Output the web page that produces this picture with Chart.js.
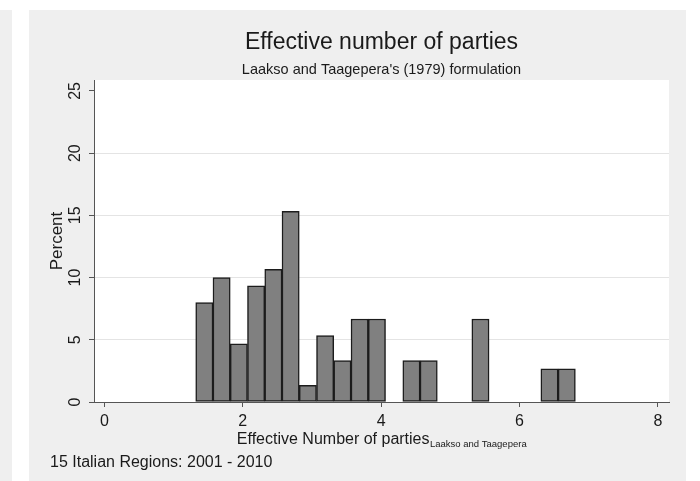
<!DOCTYPE html>
<html>
<head>
<meta charset="utf-8">
<script src="https://cdn.jsdelivr.net/npm/chart.js@4.4.1/dist/chart.umd.min.js"></script>
<style>
  html, body { margin: 0; padding: 0; background: #ffffff; }
  #wrap { position: relative; width: 700px; height: 481px; overflow: hidden; }
  .strip { position: absolute; top: 10px; left: 0; width: 12px; height: 471px; background: #efefef; }
  .panel { position: absolute; top: 10px; left: 29px; width: 657px; height: 471px; background: #efefef; }
  canvas { position: absolute; left: 0; top: 0; }
</style>
</head>
<body>
<div id="wrap">
  <div class="strip"></div>
  <div class="panel"></div>
  <canvas id="chart" width="700" height="481"></canvas>
</div>
<script>
// Histogram bins: lower edge of the first bin and common bin width
const binStart = 1.32;
const binWidth = 0.2494;
// Percent of observations falling in each bin (0 = empty bin)
const percent = [8.0, 10.0, 4.67, 9.33, 10.67, 15.33, 1.33, 5.33, 3.33, 6.67, 6.67,
                 0, 3.33, 3.33, 0, 0, 6.67, 0, 0, 0, 2.67, 2.67];
const xTicks = [0, 2, 4, 6, 8];
const yTicks = [0, 5, 10, 15, 20, 25];

const titleText = 'Effective number of parties';
const subtitleText = "Laakso and Taagepera's (1979) formulation";
const xTitle = 'Effective Number of parties';
const xTitleSub = 'Laakso and Taagepera';
const yTitle = 'Percent';
const noteText = '15 Italian Regions: 2001 - 2010';

const FONT = '"Liberation Sans", Arial, Helvetica, sans-serif';
const INK = '#1a1a1a';
const AXIS = '#555555';

Chart.defaults.font.family = FONT;
Chart.defaults.color = INK;

const bars = percent.map((p, i) => ({
  x: binStart + (i + 0.5) * binWidth,
  y: p > 0 ? p : null
}));

const frameText = {
  id: 'frameText',
  beforeDraw(chart) {
    const { ctx, chartArea: a } = chart;
    ctx.save();
    ctx.fillStyle = '#ffffff';
    ctx.fillRect(a.left, a.top, a.right - a.left, a.bottom - a.top);
    ctx.restore();
  },
  afterDraw(chart) {
    const { ctx, chartArea: a } = chart;
    const cx = (a.left + a.right) / 2;
    ctx.save();
    ctx.fillStyle = INK;
    ctx.textBaseline = 'alphabetic';

    // Title and subtitle
    ctx.textAlign = 'center';
    ctx.font = '23px ' + FONT;
    ctx.fillText(titleText, cx, 48.5);
    ctx.font = '14.5px ' + FONT;
    ctx.fillText(subtitleText, cx, 73.5);

    // X axis title with subscript
    ctx.textAlign = 'left';
    ctx.font = '16px ' + FONT;
    const wMain = ctx.measureText(xTitle).width;
    ctx.font = '9.5px ' + FONT;
    const wSub = ctx.measureText(xTitleSub).width;
    const x0 = cx - (wMain + wSub) / 2;
    ctx.font = '16px ' + FONT;
    ctx.fillText(xTitle, x0, 444);
    ctx.font = '9.5px ' + FONT;
    ctx.fillText(xTitleSub, x0 + wMain + 0.5, 447);

    // Y axis title
    ctx.save();
    ctx.translate(57.5, (a.top + a.bottom) / 2);
    ctx.rotate(-Math.PI / 2);
    ctx.textAlign = 'center';
    ctx.textBaseline = 'middle';
    ctx.font = '17px ' + FONT;
    ctx.fillText(yTitle, 0, 0);
    ctx.restore();

    // Note
    ctx.textAlign = 'left';
    ctx.font = '16px ' + FONT;
    ctx.fillText(noteText, 50, 467);
    ctx.restore();
  }
};

new Chart(document.getElementById('chart'), {
  type: 'bar',
  data: {
    datasets: [{
      data: bars,
      backgroundColor: '#808080',
      borderColor: '#1c1c1c',
      borderWidth: 1.5,
      borderSkipped: false,
      barPercentage: 1,
      categoryPercentage: 1,
      grouped: false
    }]
  },
  options: {
    responsive: false,
    animation: false,
    devicePixelRatio: 1,
    layout: { padding: { top: 80, right: 31, bottom: 0, left: 0 } },
    plugins: { legend: { display: false }, tooltip: { enabled: false } },
    scales: {
      x: {
        type: 'linear',
        min: -0.15,
        max: 8.16,
        offset: false,
        afterBuildTicks: s => { s.ticks = xTicks.map(v => ({ value: v })); },
        afterFit: s => { s.height = 79; },
        grid: { offset: false, drawOnChartArea: false, drawTicks: true, tickLength: 5, tickColor: AXIS, tickWidth: 1 },
        border: { display: true, color: AXIS, width: 1 },
        ticks: { autoSkip: false, maxRotation: 0, padding: 5, color: INK, font: { size: 16 } }
      },
      y: {
        type: 'linear',
        min: 0,
        max: 25.88,
        afterBuildTicks: s => { s.ticks = yTicks.map(v => ({ value: v })); },
        afterFit: s => { s.width = 94; },
        grid: {
          color: c => (c.tick && (c.tick.value === 0 || c.tick.value === 25)) ? 'rgba(0,0,0,0)' : '#e4e4e4',
          lineWidth: 1,
          drawTicks: true,
          tickLength: 5,
          tickColor: AXIS,
          tickWidth: 1
        },
        border: { display: true, color: AXIS, width: 1 },
        ticks: { autoSkip: false, minRotation: 90, maxRotation: 90, crossAlign: 'center', padding: 4.5, color: INK, font: { size: 16 } }
      }
    }
  },
  plugins: [frameText]
});
</script>
</body>
</html>
